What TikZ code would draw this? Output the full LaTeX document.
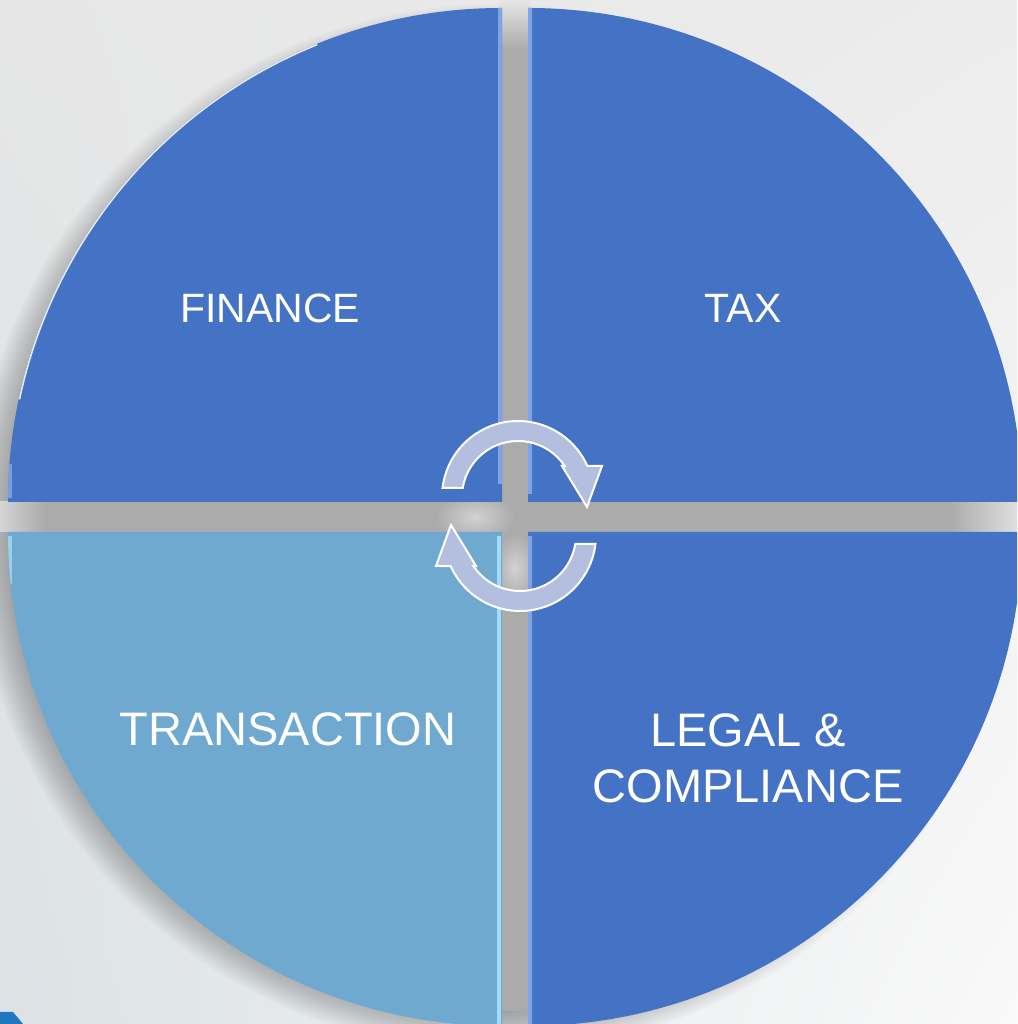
\documentclass[tikz,border=0pt]{standalone}
\usepackage{fontspec}
\setmainfont{Liberation Sans}
\usetikzlibrary{calc,shadings}
\definecolor{bgUL}{HTML}{E6E6E6}
\definecolor{bgUR}{HTML}{ECECEC}
\definecolor{bgLL}{HTML}{DCE2E5}
\definecolor{bgLR}{HTML}{F9F9F9}
\definecolor{qblue}{HTML}{4472C4}
\definecolor{qlight}{HTML}{70A9D0}
\definecolor{gapgray}{HTML}{ABABAB}
\definecolor{gaphi}{HTML}{D2D2D2}
\definecolor{arrowfill}{HTML}{B4BFE0}
\definecolor{edgehi}{HTML}{8DB0F2}
\definecolor{edgecyan}{HTML}{A9E2FF}
\definecolor{cornerblue}{HTML}{1F78BE}
\tikzset{
  cyclearrow/.style={fill=arrowfill, draw=white, line width=2pt, line join=miter},
  lbl/.style={text=white, inner sep=0pt, anchor=base},
}
\newcommand{\cyclearrowpath}{%
  (173.2:76pt) arc[start angle=173.2, end angle=24.1, radius=76pt]
  -- (84,31) -- (69,-10) -- (44,31) -- (33.6:56pt)
  arc[start angle=33.6, end angle=170.75, radius=56pt] -- cycle}
\newcommand{\qTL}{(502,522) -- (8,522) arc[start angle=180, end angle=90, radius=494pt] -- cycle}
\newcommand{\qTR}{(528,522) -- (528,1016) arc[start angle=90, end angle=0, radius=494pt] -- cycle}
\newcommand{\qBL}{(502,492) -- (8,492) arc[start angle=180, end angle=270, radius=494pt] -- cycle}
\newcommand{\qBR}{(528,492) -- (1022,492) arc[start angle=0, end angle=-90, radius=494pt] -- cycle}
\begin{document}
\begin{tikzpicture}[x=1pt,y=1pt]
\useasboundingbox (0,0) rectangle (1017,1024);
\clip (0,0) rectangle (1017,1024);
% background
\shade[upper left=bgUL, upper right=bgUR, lower left=bgLL, lower right=bgLR] (0,0) rectangle (1017,1024);
% soft shadow (lower left)
\foreach \r in {470,472,...,524} \fill[black, opacity=0.014] (496,496) circle[radius=\r pt];
% gap fill
\fill[gapgray] (515,507) circle[radius=494pt];
\shade[inner color=gaphi, outer color=gapgray] (475,507) ellipse[x radius=40pt, y radius=24pt];
\shade[inner color=gaphi, outer color=gapgray] (515,456) ellipse[x radius=22pt, y radius=34pt];
\shade[left color=gapgray, right color=bgUR!80!gapgray] (950,492) rectangle (1017,522);
\shade[right color=gapgray, left color=bgUL!70!gapgray] (0,492) rectangle (45,522);
\shade[bottom color=gapgray, top color=bgUL] (500,975) rectangle (530,1024);
% quadrants
\fill[qblue] \qTL;
\fill[qblue] \qTR;
\fill[qlight] \qBL;
\fill[qblue] \qBR;
% bevel highlights
\begin{scope}
  \clip \qTL;
  \draw[edgehi, line width=4pt, opacity=0.8] (500,1016) -- (500,540);
  \draw[white, line width=3pt, opacity=0.85] ($(502,522)+(168:494pt)$) arc[start angle=168, end angle=112, radius=494pt];
  \draw[edgehi, line width=4pt, opacity=0.7] (10,560) -- (10,526);
\end{scope}
\begin{scope}
  \clip \qTR;
  \draw[edgehi, line width=4pt, opacity=0.8] (530,1016) -- (530,530);
\end{scope}
\begin{scope}
  \clip \qBL;
  \draw[edgecyan, line width=4pt, opacity=0.9] (499,488) -- (499,0);
  \draw[edgecyan, line width=4pt, opacity=0.7] (10,488) -- (10,440);
\end{scope}
\begin{scope}
  \clip \qBR;
  \draw[edgehi, line width=4pt, opacity=0.8] (530,488) -- (530,0);
\end{scope}
% corner piece
\fill[cornerblue] (0,0) -- (0,12) -- (13,12) -- (23,0) -- cycle;
% cycle arrows
\begin{scope}[shift={(518,527)}]
  \draw[cyclearrow] \cyclearrowpath;
\end{scope}
\begin{scope}[shift={(520,489)}, rotate=180]
  \draw[cyclearrow] \cyclearrowpath;
\end{scope}
% labels
\node[lbl, font=\fontsize{41}{49}\selectfont] (finance) at (270,701) {FINANCE};
\node[lbl, font=\fontsize{41}{49}\selectfont] (tax) at (743,701) {TAX};
\node[lbl, font=\fontsize{47}{56}\selectfont] (transaction) at (288,278) {TRANSACTION};
\node[lbl, font=\fontsize{47}{56}\selectfont] (legal) at (748,277) {LEGAL \&};
\node[lbl, font=\fontsize{47}{56}\selectfont] (compliance) at (748,221) {COMPLIANCE};
\end{tikzpicture}
\end{document}
